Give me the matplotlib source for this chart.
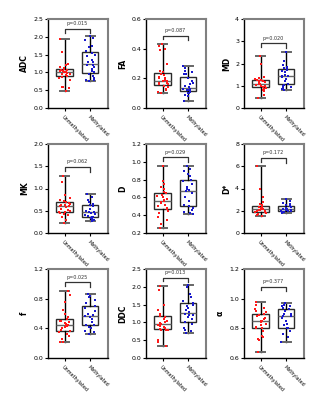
import numpy as np
import matplotlib
matplotlib.use('Agg')
from matplotlib import pyplot as plt

groups = ['Unmethylated', 'Methylated']

# values: (label, unmethylated, methylated)
adc_u = [1.95, 1.57, 1.25, 1.2, 1.15, 1.12, 1.1, 1.08, 1.07, 1.05, 1.05, 1.02, 1.0, 1.0,
         0.98, 0.95, 0.95, 0.92, 0.9, 0.88, 0.85, 0.8, 0.6, 0.58, 0.57, 0.47]
adc_m = [2.02, 1.97, 1.9, 1.75, 1.7, 1.6, 1.55, 1.5, 1.45, 1.35, 1.3, 1.28, 1.22, 1.2,
         1.15, 1.1, 1.05, 1.0, 0.95, 0.9, 0.85, 0.8, 0.78, 0.75]
fa_u = [0.43, 0.42, 0.40, 0.39, 0.3, 0.25, 0.24, 0.23, 0.22, 0.21, 0.2, 0.2, 0.19, 0.18,
        0.18, 0.17, 0.17, 0.16, 0.16, 0.15, 0.15, 0.14, 0.13, 0.12, 0.11, 0.10]
fa_m = [0.28, 0.27, 0.25, 0.24, 0.23, 0.23, 0.2, 0.18, 0.17, 0.16, 0.15, 0.14, 0.13, 0.13,
        0.13, 0.12, 0.12, 0.12, 0.11, 0.1, 0.1, 0.09, 0.08, 0.05]
md_u = [2.35, 2.0, 1.4, 1.35, 1.3, 1.28, 1.25, 1.22, 1.2, 1.18, 1.15, 1.12, 1.1, 1.1,
        1.08, 1.05, 1.0, 1.0, 0.98, 0.95, 0.9, 0.85, 0.8, 0.75, 0.6, 0.47]
md_m = [2.5, 2.1, 1.95, 1.85, 1.8, 1.75, 1.7, 1.65, 1.6, 1.5, 1.45, 1.42, 1.4, 1.3,
        1.2, 1.1, 1.05, 1.0, 0.95, 0.9, 0.85, 0.82]
mk_u = [1.28, 1.15, 0.85, 0.78, 0.75, 0.72, 0.7, 0.68, 0.65, 0.63, 0.62, 0.6, 0.6, 0.58,
        0.55, 0.52, 0.5, 0.48, 0.47, 0.45, 0.42, 0.4, 0.35, 0.3, 0.23]
mk_m = [0.87, 0.8, 0.75, 0.7, 0.65, 0.63, 0.6, 0.55, 0.5, 0.48, 0.47, 0.45, 0.42, 0.4,
        0.38, 0.37, 0.35, 0.33, 0.32, 0.3, 0.28]
d_u = [0.95, 0.78, 0.75, 0.72, 0.7, 0.66, 0.65, 0.63, 0.62, 0.6, 0.58, 0.57, 0.56, 0.55,
       0.54, 0.52, 0.5, 0.48, 0.47, 0.45, 0.42, 0.38, 0.35, 0.3, 0.26]
d_m = [0.95, 0.92, 0.9, 0.86, 0.84, 0.8, 0.78, 0.75, 0.72, 0.7, 0.68, 0.67, 0.65, 0.6,
       0.56, 0.52, 0.5, 0.48, 0.46, 0.44, 0.42, 0.41]
dstar_u = [6.0, 4.0, 3.2, 2.8, 2.6, 2.5, 2.4, 2.35, 2.3, 2.25, 2.2, 2.15, 2.1, 2.05,
           2.0, 2.0, 1.95, 1.9, 1.85, 1.8, 1.75, 1.7, 1.6, 1.5]
dstar_m = [3.1, 2.9, 2.7, 2.6, 2.5, 2.45, 2.4, 2.3, 2.25, 2.2, 2.2, 2.15, 2.1, 2.05,
           2.0, 2.0, 1.95, 1.9, 1.85, 1.8]
f_u = [0.9, 0.85, 0.75, 0.65, 0.6, 0.55, 0.52, 0.5, 0.5, 0.48, 0.47, 0.46, 0.45, 0.45,
       0.43, 0.42, 0.4, 0.38, 0.36, 0.35, 0.33, 0.3, 0.25, 0.22, 0.21]
f_m = [0.86, 0.84, 0.82, 0.78, 0.74, 0.7, 0.67, 0.63, 0.6, 0.58, 0.57, 0.55, 0.52, 0.48,
       0.45, 0.44, 0.42, 0.4, 0.37, 0.35, 0.33]
ddc_u = [2.03, 1.9, 1.5, 1.35, 1.25, 1.2, 1.18, 1.15, 1.1, 1.05, 1.0, 0.98, 0.95, 0.92,
         0.9, 0.88, 0.85, 0.82, 0.8, 0.8, 0.78, 0.5, 0.45, 0.35]
ddc_m = [2.05, 2.0, 1.8, 1.7, 1.6, 1.55, 1.5, 1.45, 1.4, 1.35, 1.3, 1.25, 1.22, 1.2,
         1.15, 1.1, 1.0, 0.95, 0.85, 0.8, 0.75, 0.7]
alpha_u = [0.98, 0.96, 0.94, 0.93, 0.92, 0.91, 0.9, 0.89, 0.88, 0.87, 0.86, 0.85, 0.85,
           0.84, 0.83, 0.82, 0.81, 0.8, 0.8, 0.78, 0.75, 0.74, 0.73, 0.72, 0.64]
alpha_m = [0.97, 0.96, 0.95, 0.95, 0.94, 0.93, 0.92, 0.9, 0.9, 0.88, 0.88, 0.87, 0.85,
           0.83, 0.82, 0.8, 0.8, 0.78, 0.76, 0.74, 0.71]

labels = ['ADC', 'FA', 'MD', 'MK', 'D', 'D*', 'f', 'DDC', 'α']
p_values = ['p=0.015', 'p=0.087', 'p=0.020', 'p=0.062', 'p=0.029', 'p=0.172',
            'p=0.025', 'p=0.013', 'p=0.377']
y_ticks = [[0.0, 0.5, 1.0, 1.5, 2.0, 2.5], [0.0, 0.2, 0.4, 0.6], [0, 1, 2, 3, 4],
           [0.0, 0.5, 1.0, 1.5, 2.0], [0.2, 0.4, 0.6, 0.8, 1.0, 1.2], [0, 2, 4, 6, 8],
           [0.0, 0.4, 0.8, 1.2], [0.0, 0.5, 1.0, 1.5, 2.0, 2.5], [0.6, 0.8, 1.0, 1.2]]
tick_fmt = ['%.1f', '%.1f', '%d', '%.1f', '%.1f', '%d', '%.1f', '%.1f', '%.1f']
bracket_y = [2.22, 0.487, 2.91, 1.48, 1.05, 6.73, 1.02, 2.25, 1.08]

data = [(adc_u, adc_m), (fa_u, fa_m), (md_u, md_m), (mk_u, mk_m), (d_u, d_m),
        (dstar_u, dstar_m), (f_u, f_m), (ddc_u, ddc_m), (alpha_u, alpha_m)]

colors = ['#ff1a1a', '#1a1acc']
W, H = 332, 400
lefts = [48, 146, 244]
tops = [19, 144, 269]

fig = plt.figure(figsize=(3.32, 4.0), dpi=100)
rng = np.random.default_rng(3)

for k in range(9):
    r, c = divmod(k, 3)
    ax = fig.add_axes([lefts[c] / W, 1 - (tops[r] + 89) / H, 60 / W, 89 / H])
    u, m = data[k]
    bp = ax.boxplot([u, m], positions=[1, 2], widths=0.64, whis=(0, 100),
                    patch_artist=True, showfliers=False, zorder=2)
    for b in bp['boxes']:
        b.set(facecolor='white', edgecolor='#2a2a2a', linewidth=1.0)
    for w in bp['whiskers']:
        w.set(color='black', linewidth=1.0)
    for cp in bp['caps']:
        cp.set(color='#666666', linewidth=1.4)
        xd = cp.get_xdata()
        mid = xd.mean()
        cp.set_xdata([mid - 0.18, mid + 0.18])
    for md in bp['medians']:
        md.set(color='#666666', linewidth=1.0)
    for i, vals in enumerate([u, m]):
        x = i + 1 + rng.uniform(-0.22, 0.22, len(vals))
        ax.scatter(x, vals, s=4, marker='s', color=colors[i], linewidths=0, zorder=3)

    lo, hi = y_ticks[k][0], y_ticks[k][-1]
    span = hi - lo
    by = bracket_y[k]
    ax.plot([1, 1, 2, 2], [by - 0.04 * span, by, by, by - 0.05 * span],
            color='#333333', linewidth=0.9, zorder=4)
    ax.text(1.5, by + 0.03 * span, p_values[k], ha='center', va='bottom',
            fontsize=3.5, color='#333333')

    ax.set_xlim(0.35, 2.7)
    ax.set_ylim(lo, hi)
    ax.set_yticks(y_ticks[k])
    ax.set_yticklabels([tick_fmt[k] % t for t in y_ticks[k]])
    ax.set_xticks([1, 2])
    ax.set_xticklabels(groups, rotation=-45, ha='left', rotation_mode='anchor',
                       fontsize=3.5)
    ax.tick_params(axis='y', labelsize=4.5, length=2.5, width=0.8, pad=1)
    ax.tick_params(axis='x', length=2.5, width=0.8, pad=2)
    ax.set_ylabel(labels[k], fontsize=5.5, fontweight='bold', labelpad=3)
    for s in ['left', 'bottom']:
        ax.spines[s].set(color='black', linewidth=1.0)
    for s in ['top', 'right']:
        ax.spines[s].set(color='#808080', linewidth=1.5)

fig.savefig('out.png', dpi=100)
